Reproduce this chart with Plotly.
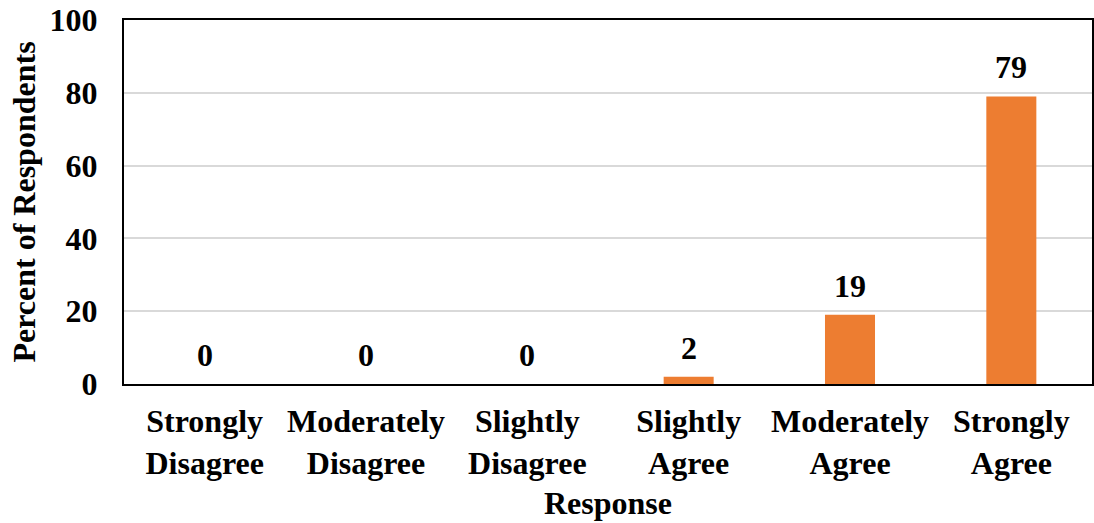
import plotly.graph_objects as go

categories = ["Strongly<br>Disagree", "Moderately<br>Disagree", "Slightly<br>Disagree",
              "Slightly<br>Agree", "Moderately<br>Agree", "Strongly<br>Agree"]
values = [0, 0, 0, 2, 19, 79]
y_ticks = [0, 20, 40, 60, 80, 100]

FONT = "Liberation Serif, Times New Roman, serif"
SIZE = 32

fig = go.Figure()
fig.add_trace(go.Bar(
    x=categories, y=values, width=0.31,
    marker=dict(color="#ED7D31", line=dict(width=0)),
    showlegend=False,
))

for c, v in zip(categories, values):
    fig.add_annotation(x=c, y=v, text=str(v), showarrow=False,
                       yanchor="bottom", yshift=9,
                       font=dict(family=FONT, size=SIZE, color="black"))

fig.update_layout(
    width=1094, height=523,
    margin=dict(l=124, r=2, t=20, b=139),
    paper_bgcolor="white", plot_bgcolor="white",
    font=dict(family=FONT, size=SIZE, color="black", weight="bold"),
    bargap=0.69,
)
fig.update_xaxes(
    automargin=False,
    showline=True, linecolor="black", linewidth=2, mirror=True,
    tickfont=dict(family=FONT, size=SIZE, color="black", weight="bold"),
    ticklabelstandoff=8,
    title=dict(text="<b>Response</b>", font=dict(family=FONT, size=SIZE), standoff=12),
)
fig.update_yaxes(
    automargin=False,
    range=[0, 100], tickvals=y_ticks,
    showline=True, linecolor="black", linewidth=2, mirror=True,
    showgrid=True, gridcolor="#d9d9d9", gridwidth=1.5,
    zeroline=False,
    tickfont=dict(family=FONT, size=SIZE, color="black", weight="bold"),
    ticklabelstandoff=18,
    title=dict(text="<b>Percent of Respondents</b>", font=dict(family=FONT, size=SIZE), standoff=4),
)

fig.write_html(
    "out.html",
    config={"displayModeBar": False},
    post_script="document.body.style.margin='0';document.body.style.overflow='hidden';",
)
